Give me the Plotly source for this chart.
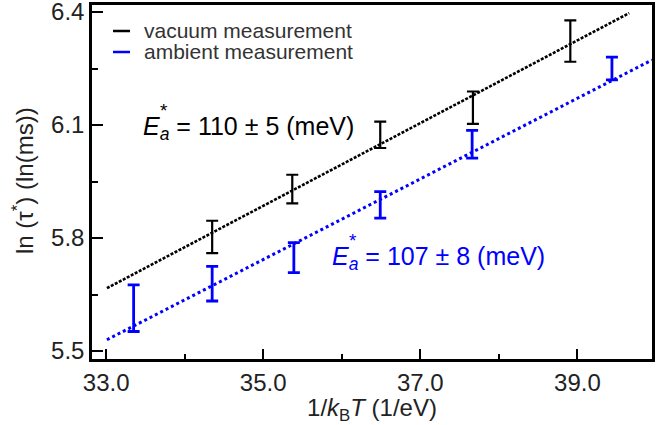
import plotly.graph_objects as go
import numpy as np

# ---- data ----
vac_x = [34.35, 35.37, 36.49, 37.67, 38.91]
vac_y = [5.803, 5.930, 6.074, 6.146, 6.323]
vac_err = [0.043, 0.038, 0.035, 0.043, 0.055]

amb_x = [33.35, 34.35, 35.39, 36.49, 37.66, 39.44]
amb_y = [5.614, 5.679, 5.748, 5.888, 6.049, 6.250]
amb_err = [0.062, 0.046, 0.040, 0.035, 0.037, 0.030]

# linear fits (slope, intercept) and drawn x-span
vac_fit = [0.1098, 2.0425]
vac_fit_span = [33.01, 39.66]
amb_fit = [0.1070, 1.998]
amb_fit_span = [33.01, 39.95]

series_names = ["vacuum measurement", "ambient measurement"]
annot_texts = ["110 ± 5 (meV)", "107 ± 8 (meV)"]

x_ticks = [33.0, 35.0, 37.0, 39.0]
y_ticks = [5.5, 5.8, 6.1, 6.4]

BLACK = "#000000"
BLUE = "#0000ff"
FONT = "Liberation Sans, Arial, sans-serif"
TXT = "#222222"

fig = go.Figure()

def fit_line(fit, span):
    xs = np.array(span)
    return xs, fit[0] * xs + fit[1]

fx, fy = fit_line(vac_fit, vac_fit_span)
fig.add_trace(go.Scatter(x=fx, y=fy, mode="lines",
                         line=dict(color=BLACK, width=2.6, dash="3px,1.5px"),
                         showlegend=False, hoverinfo="skip"))
fx, fy = fit_line(amb_fit, amb_fit_span)
fig.add_trace(go.Scatter(x=fx, y=fy, mode="lines",
                         line=dict(color=BLUE, width=3, dash="dot"),
                         showlegend=False, hoverinfo="skip"))

fig.add_trace(go.Scatter(x=vac_x, y=vac_y, mode="markers",
                         marker=dict(size=1, color="rgba(0,0,0,0)"),
                         error_y=dict(type="data", array=vac_err, visible=True,
                                      color=BLACK, thickness=2.2, width=6),
                         showlegend=False))
fig.add_trace(go.Scatter(x=amb_x, y=amb_y, mode="markers",
                         marker=dict(size=1, color="rgba(0,0,0,0)"),
                         error_y=dict(type="data", array=amb_err, visible=True,
                                      color=BLUE, thickness=2.8, width=6),
                         showlegend=False))

# custom legend (short solid line samples)
legend_colors = [BLACK, BLUE]
shapes = []
annotations = []
PW, PH = 668 - 92 - 16, 425 - 5 - 66
for i, (name, col) in enumerate(zip(series_names, legend_colors)):
    ypix = 31 + 21 * i
    yp = 1 - (ypix - 5) / PH
    shapes.append(dict(type="line", xref="paper", yref="paper",
                       x0=(113 - 92) / PW, x1=(130 - 92) / PW,
                       y0=yp, y1=yp, line=dict(color=col, width=2.5)))
    annotations.append(dict(xref="paper", yref="paper",
                            x=(142 - 92) / PW, y=yp, xanchor="left",
                            yanchor="middle", showarrow=False, text=name,
                            font=dict(family=FONT, size=21, color="#333333")))

# activation energy annotations
ann_pos = [(33.44, 6.0925, BLACK), (35.85, 5.748, BLUE)]
for (ax, ay, col), t in zip(ann_pos, annot_texts):
    annotations.append(dict(xref="x", yref="y", x=ax, y=ay, xanchor="left",
                            yanchor="middle", showarrow=False,
                            text="<i>E<sub>a</sub></i> = " + t,
                            font=dict(family=FONT, size=25, color=col)))
    annotations.append(dict(xref="x", yref="y", x=ax, y=ay, xanchor="left",
                            yanchor="middle", showarrow=False, text="*",
                            xshift=17, yshift=17,
                            font=dict(family=FONT, size=19, color=col)))

# y-axis title as rotated annotation
annotations.append(dict(xref="paper", yref="paper",
                        x=(23 - 92) / PW, y=1 - (181 - 5) / PH,
                        xanchor="center", yanchor="middle", showarrow=False,
                        textangle=-90, text="ln (τ<sup>*</sup>) (ln(ms))",
                        font=dict(family=FONT, size=24, color=TXT)))

fig.update_layout(
    width=668, height=425,
    margin=dict(l=92, r=16, t=5, b=66),
    paper_bgcolor="white", plot_bgcolor="white",
    font=dict(family=FONT, size=24, color=TXT),
    showlegend=False,
    shapes=shapes, annotations=annotations,
    xaxis=dict(range=[32.82, 39.95], tickvals=x_ticks,
               ticktext=[f"{v:.1f}" for v in x_ticks],
               ticks="inside", ticklen=10, tickwidth=2, tickcolor="black",
               minor=dict(dtick=1, tick0=33, ticks="inside", ticklen=5,
                          tickwidth=2, tickcolor="black"),
               showline=True, linecolor="black", linewidth=2.5, mirror=True,
               showgrid=False, zeroline=False, automargin=False,
               ticklabeloverflow="allow",
               tickfont=dict(size=24, color=TXT),
               title=dict(text="1/<i>k</i><sub>B</sub><i>T</i> (1/eV)",
                          font=dict(size=24, color=TXT), standoff=2)),
    yaxis=dict(range=[5.479, 6.4186], tickvals=y_ticks,
               ticktext=[f"{v:.1f}" for v in y_ticks],
               ticks="inside", ticklen=11, tickwidth=2, tickcolor="black",
               minor=dict(dtick=0.15, tick0=5.5, ticks="inside", ticklen=6,
                          tickwidth=2, tickcolor="black"),
               showline=True, linecolor="black", linewidth=2.5, mirror=True,
               showgrid=False, zeroline=False, automargin=False,
               ticklabeloverflow="allow",
               tickfont=dict(size=24, color=TXT)),
)

fig.write_html("out.html",
               config={"displayModeBar": False},
               post_script="document.body.style.margin='0';"
                           "document.body.style.overflow='hidden';")
